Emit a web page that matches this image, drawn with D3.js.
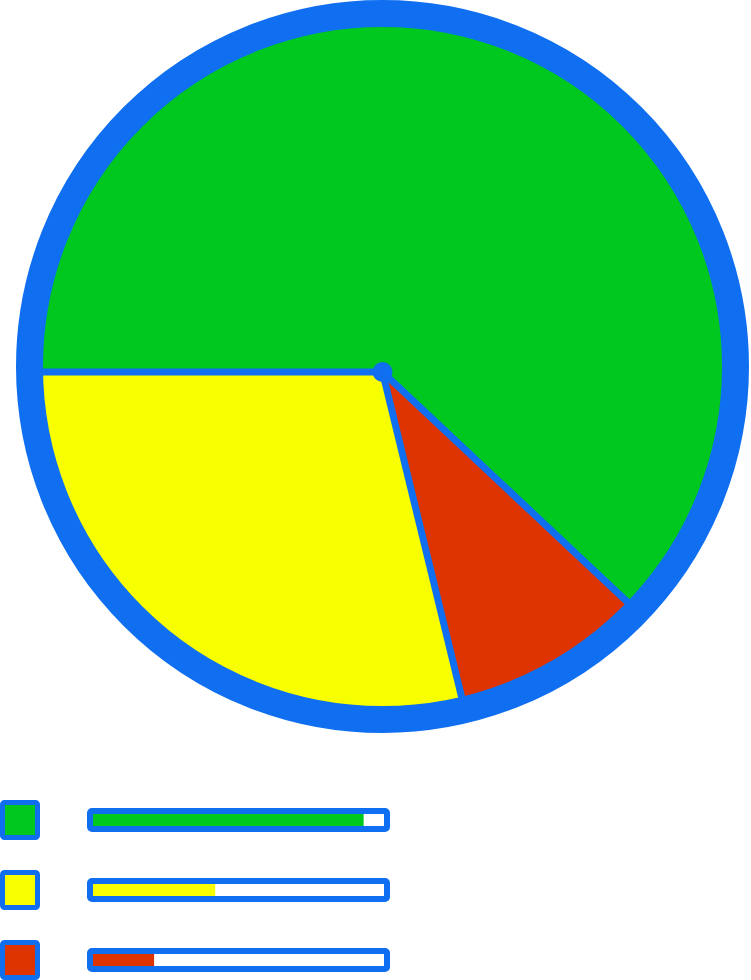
<!DOCTYPE html>
<html>
<head>
<meta charset="utf-8">
<script src="https://cdn.jsdelivr.net/npm/d3@7"></script>
<style>
html,body{margin:0;padding:0;background:#fff;}
svg{display:block;}
</style>
</head>
<body>
<svg id="chart" width="751" height="980"></svg>
<script>
// Pie slices (clockwise from 9 o'clock)
const sliceNames = ["Green", "Red", "Yellow"];
const sliceValues = [62, 9.2, 28.8];
const sliceColors = ["#00c81e", "#dd3300", "#f7ff00"];

// Legend rows
const legendNames = ["Green", "Yellow", "Red"];
const legendValues = [0.93, 0.42, 0.21];
const legendColors = ["#00c81e", "#f7ff00", "#dd3300"];

const blue = "#0f6ff0";
const svg = d3.select("#chart");

const cx = 382.5, cy = 366.5, rInner = 339.5, ringW = 27;
const apexDy = 5.5;

const defs = svg.append("defs");
defs.append("clipPath").attr("id", "inner")
  .append("circle").attr("cx", cx).attr("cy", cy).attr("r", rInner + 4);

const pie = d3.pie().sort(null).value(d => d).startAngle(-Math.PI / 2).endAngle(1.5 * Math.PI);
const arcs = pie(sliceValues);
const arc = d3.arc().innerRadius(0).outerRadius(rInner + 20);

const g = svg.append("g").attr("clip-path", "url(#inner)")
  .append("g").attr("transform", `translate(${cx},${cy + apexDy})`);
g.selectAll("path.slice").data(arcs).join("path")
  .attr("class", "slice")
  .attr("d", arc)
  .attr("fill", (d, i) => sliceColors[i]);

// divider lines
g.selectAll("line.div").data(arcs).join("line")
  .attr("class", "div")
  .attr("x1", 0).attr("y1", 0)
  .attr("x2", d => Math.sin(d.startAngle) * (rInner + 20))
  .attr("y2", d => -Math.cos(d.startAngle) * (rInner + 20))
  .attr("stroke", blue).attr("stroke-width", 7);

// outer ring
svg.append("circle").attr("cx", cx).attr("cy", cy).attr("r", rInner + ringW / 2)
  .attr("fill", "none").attr("stroke", blue).attr("stroke-width", ringW);

// center dot
svg.append("circle").attr("cx", cx).attr("cy", cy + apexDy).attr("r", 10).attr("fill", blue);

// legend
const y0 = 800, step = 70;
const x = d3.scaleLinear().domain([0, 1]).range([0, 291]);
const rows = svg.selectAll("g.row").data(legendNames).join("g")
  .attr("class", "row")
  .attr("transform", (d, i) => `translate(0,${y0 + i * step})`);

rows.append("rect")
  .attr("x", 2.5).attr("y", 2.5).attr("width", 35).attr("height", 35)
  .attr("rx", 2)
  .attr("fill", (d, i) => legendColors[i])
  .attr("stroke", blue).attr("stroke-width", 5);

rows.append("rect")
  .attr("x", 90).attr("y", 11).attr("width", 297).attr("height", 18)
  .attr("rx", 2)
  .attr("fill", "#fff")
  .attr("stroke", blue).attr("stroke-width", 6);

rows.append("rect")
  .attr("x", 93).attr("y", 14)
  .attr("width", (d, i) => x(legendValues[i]))
  .attr("height", 12)
  .attr("fill", (d, i) => legendColors[i]);
</script>
</body>
</html>
